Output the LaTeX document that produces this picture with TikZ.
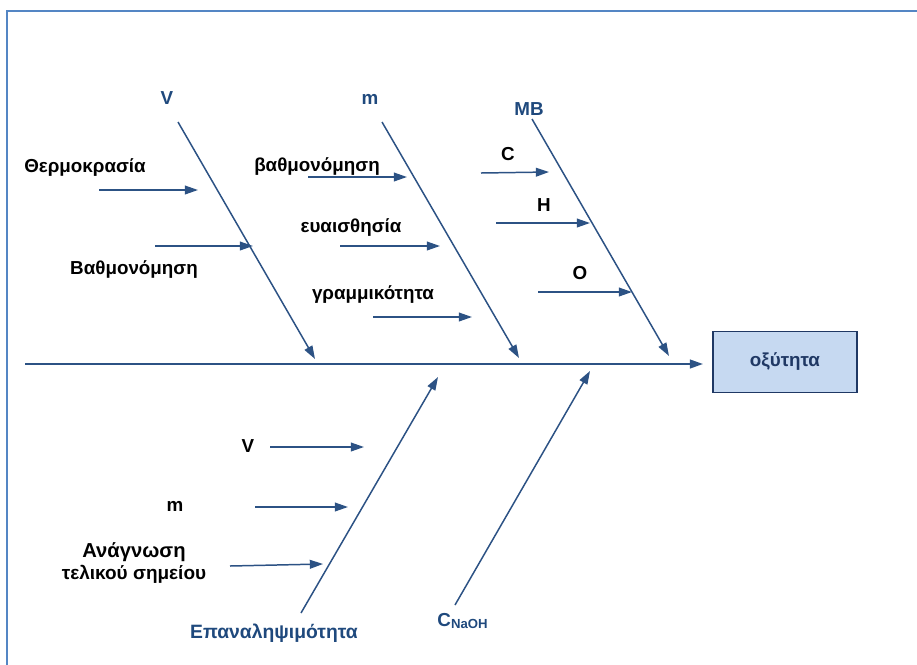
\documentclass[tikz,border=0pt]{standalone}
\usepackage{fontspec}
\setmainfont{Liberation Sans}
\usetikzlibrary{arrows.meta}

\definecolor{fishline}{RGB}{44,82,132}
\definecolor{catblue}{RGB}{31,73,125}
\definecolor{boxfill}{RGB}{198,217,241}
\definecolor{boxdraw}{RGB}{31,56,100}
\definecolor{framecol}{RGB}{84,134,196}

\begin{document}
\begin{tikzpicture}[x=0.02cm, y=-0.02cm,
  bone/.style={draw=fishline, line width=0.85pt, ->},
  spine/.style={draw=fishline, line width=1.1pt, ->},
  lbl/.style={font=\bfseries\fontsize{10.7}{12}\selectfont, inner sep=1pt},
  cat/.style={lbl, text=catblue},
  effect/.style={draw=boxdraw, fill=boxfill, line width=0.8pt, minimum width=2.88cm, minimum height=1.22cm, font=\bfseries\fontsize{10.7}{12}\selectfont, text=boxdraw},
  >={Triangle[length=7.5pt,width=5pt]}]
\useasboundingbox (0,0) rectangle (917,664);
\draw[framecol, line width=1pt] (7,700) |- (940,11);

% effect and spine
\node[effect] (acid) at (785,362) {οξύτητα};
\coordinate (sp0) at (25,364);
\coordinate (spE) at (703,364);
\draw[spine] (sp0) -- (spE);

% main bones
\coordinate (vT) at (178,122);   \coordinate (vE) at (315,359);
\coordinate (mT) at (382,122);   \coordinate (mE) at (519,358);
\coordinate (mbT) at (532,119);  \coordinate (mbE) at (669,356);
\coordinate (repB) at (301,613); \coordinate (repE) at (438,377);
\coordinate (naB) at (455,605);  \coordinate (naE) at (590,371);
\draw[bone] (vT) -- (vE);
\draw[bone] (mT) -- (mE);
\draw[bone] (mbT) -- (mbE);
\draw[bone] (repB) -- (repE);
\draw[bone] (naB) -- (naE);

\node[cat] (vlab) at (167,98) {V};
\node[cat] (mlab) at (370,99) {m};
\node[cat] (mblab) at (529,109) {MB};
\node[cat, font=\bfseries\fontsize{11}{12}\selectfont] (replab) at (274,633) {Επαναληψιμότητα};
\node[cat] (nalab) at (463,621) {C\textsubscript{NaOH}};

% causes on V
\node[lbl] (temp) at (85,168) {Θερμοκρασία};
\node[lbl] (calv) at (134,270) {Βαθμονόμηση};
\coordinate (a1) at (99,190);  \coordinate (a1e) at (198,190);
\coordinate (a2) at (155,246); \coordinate (a2e) at (253,246);
\draw[bone] (a1) -- (a1e);
\draw[bone] (a2) -- (a2e);

% causes on m
\node[lbl] (calm) at (317,167) {βαθμονόμηση};
\node[lbl] (sens) at (351,228) {ευαισθησία};
\node[lbl] (lin) at (373,295) {γραμμικότητα};
\coordinate (b1) at (308,177); \coordinate (b1e) at (407,177);
\coordinate (b2) at (340,246); \coordinate (b2e) at (440,246);
\coordinate (b3) at (373,317); \coordinate (b3e) at (472,317);
\draw[bone] (b1) -- (b1e);
\draw[bone] (b2) -- (b2e);
\draw[bone] (b3) -- (b3e);

% causes on MB
\node[lbl] (elc) at (508,154) {C};
\node[lbl] (elh) at (544,205) {H};
\node[lbl] (elo) at (580,273) {O};
\coordinate (c1) at (481,173); \coordinate (c1e) at (549,172);
\coordinate (c2) at (496,223); \coordinate (c2e) at (590,223);
\coordinate (c3) at (538,292); \coordinate (c3e) at (632,292);
\draw[bone] (c1) -- (c1e);
\draw[bone] (c2) -- (c2e);
\draw[bone] (c3) -- (c3e);

% causes on repeatability
\node[lbl] (repv) at (248,446) {V};
\node[lbl] (repm) at (175,506) {m};
\node[lbl, align=center] (endp) at (134,563) {{\fontsize{11.5}{13.5}\selectfont Ανάγνωση}\\{\fontsize{10.8}{11}\selectfont τελικού σημείου}};
\coordinate (d1) at (270,447); \coordinate (d1e) at (364,447);
\coordinate (d2) at (255,507); \coordinate (d2e) at (348,507);
\coordinate (d3) at (230,566); \coordinate (d3e) at (323,564);
\draw[bone] (d1) -- (d1e);
\draw[bone] (d2) -- (d2e);
\draw[bone] (d3) -- (d3e);
\end{tikzpicture}
\end{document}
